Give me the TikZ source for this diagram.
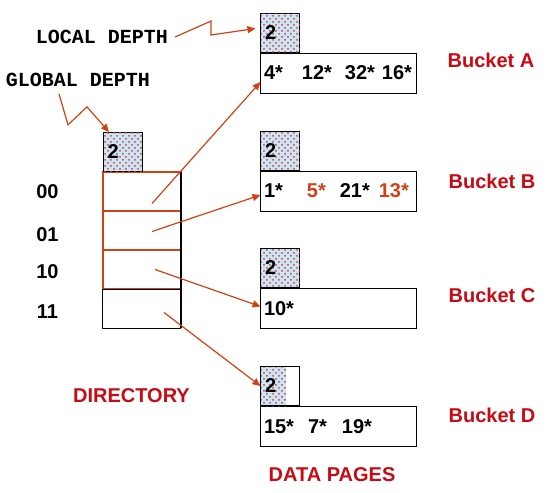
\documentclass[tikz,border=0pt]{standalone}
\usepackage{fontspec}
\setmainfont{Liberation Sans}
\setmonofont{Liberation Mono}
\definecolor{ptrred}{RGB}{210, 65, 20}
\definecolor{titlered}{RGB}{200, 10, 20}
\definecolor{depthblue}{RGB}{200, 230, 248}
\definecolor{dotred}{RGB}{220, 60, 45}
\usepackage{tikz}
\usetikzlibrary{arrows.meta, positioning, calc, patterns}

\begin{document}
\begin{tikzpicture}[x=0.5pt, y=-0.5pt,
  ptr/.style={draw=ptrred, line width=0.6pt, -{Triangle[length=4pt, width=3.5pt]}},
  dotfill/.style={fill=depthblue, postaction={pattern=crosshatch dots, pattern color=dotred}},
  depthbox/.style={draw, line width=0.5pt, minimum width=19.5pt, minimum height=19.5pt, inner sep=0pt, text width=15.5pt, align=left, font=\bfseries, anchor=south west},
  databox/.style={draw, line width=0.5pt, minimum width=78pt, minimum height=20pt, inner xsep=1.5pt, inner ysep=0pt, text width=75pt, align=left, font=\bfseries},
  cell/.style={draw=ptrred, line width=0.9pt, minimum width=39pt, minimum height=19.5pt, inner sep=0pt, outer sep=0pt},
  title/.style={font=\bfseries, text=titlered}]
  \useasboundingbox (0,0) rectangle (548,493);

  % Directory
  \node[cell] (cell00) at (142,191.5) {};
  \node[cell, below=0pt of cell00] (cell01) {};
  \node[cell, below=0pt of cell01] (cell10) {};
  \node[cell, draw=black, line width=0.5pt, below=0pt of cell10] (cell11) {};
  \draw[line width=0.6pt] (cell00.north east) -- (cell11.south east);
  \node[depthbox, dotfill] (depthG) at (cell00.north west) {2};

  \node[font=\bfseries] (lbl00) at (47.5,192) {00};
  \node[font=\bfseries] (lbl01) at (47.5,234.5) {01};
  \node[font=\bfseries] (lbl10) at (47.5,272) {10};
  \node[font=\bfseries] (lbl11) at (47.5,312) {11};

  \node[title] (dirLbl) at (131.5,396) {DIRECTORY};

  % Buckets
  \node[databox] (dataA) at (339,73) {4*\hspace{9.5pt}12*\hspace{6.5pt}32*\hspace{3.5pt}16*};
  \node[databox] (dataB) at (339,191) {1*\hspace{12pt}\textcolor{ptrred}{5*}\hspace{7pt}21*\hspace{4.5pt}\textcolor{ptrred}{13*}};
  \node[databox] (dataC) at (339,308.5) {10*};
  \node[databox] (dataD) at (339,426.5) {15*\hspace{7pt}7*\hspace{7.5pt}19*};

  \node[depthbox, dotfill] (depthA) at (dataA.north west) {2};
  \node[depthbox, dotfill] (depthB) at (dataB.north west) {2};
  \node[depthbox, dotfill] (depthC) at (dataC.north west) {2};
  \fill[dotfill] (dataD.north west) rectangle ++(26,-39);
  \node[depthbox] (depthD) at (dataD.north west) {2};

  \node[title] (bktA) at (491,60) {Bucket A};
  \node[title] (bktB) at (492,181) {Bucket B};
  \node[title] (bktC) at (492,295) {Bucket C};
  \node[title] (bktD) at (492,415) {Bucket D};

  \node[title] (pagesLbl) at (332,475) {DATA PAGES};

  % Depth labels
  \node[font=\ttfamily\bfseries] (localLbl) at (102,37) {LOCAL DEPTH};
  \node[font=\ttfamily\bfseries] (globalLbl) at (78,80) {GLOBAL DEPTH};

  \draw[ptr] (localLbl.east) -- ++(36,-16) -- ++(0,14) -- ($(depthA.west)+(-5,-4)$);
  \draw[ptr] ($(globalLbl.south)+(-19,0)$) -- ++(9,31) -- ++(19,-18) -- ($(depthG.north west)+(6,0)$);

  % Pointers
  \draw[ptr] ($(cell00.center)+(10,12)$) -- ($(dataA.west)+(0,9)$);
  \draw[ptr] ($(cell01.center)+(10,1)$) -- ($(dataB.west)+(0,4)$);
  \draw[ptr] ($(cell10.center)+(13,0)$) -- ($(dataC.west)+(0,-2)$);
  \draw[ptr] ($(cell11.center)+(22,4)$) -- (depthD.west);
\end{tikzpicture}
\end{document}
